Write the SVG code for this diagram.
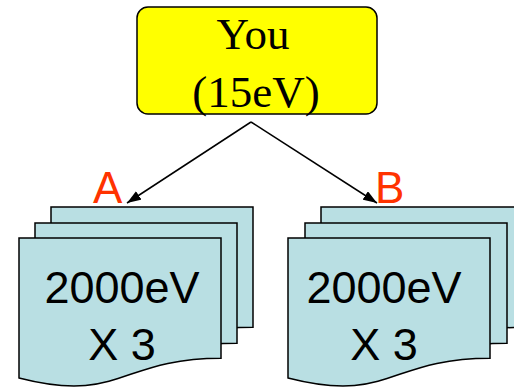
<svg xmlns="http://www.w3.org/2000/svg" width="514" height="387" viewBox="0 0 514 387">
<style>
.sheet{fill:#B9DFE3;stroke:#000;stroke-width:1.5}
.big{font-family:"Liberation Sans",Arial,sans-serif;font-size:45px;fill:#000;text-anchor:middle}
.lbl{font-family:"Liberation Sans",Arial,sans-serif;font-size:44px;fill:#FF3300}
.you{font-family:"Liberation Serif","Times New Roman",serif;font-size:45px;fill:#000;text-anchor:middle}
.conn{stroke:#000;stroke-width:1.5;fill:none}
</style>
<defs>
<path id="doc" d="M0,0 H202 V120.3 C101,120.3 101,166 0,140 Z"/>
<marker id="ah" markerWidth="14" markerHeight="10" refX="14" refY="5" orient="auto" markerUnits="userSpaceOnUse">
<path d="M0,0 L14,5 L0,10 Z" fill="#000"/>
</marker>
</defs>
<g id="you">
<rect x="137" y="7" width="240" height="107" rx="11" ry="11" fill="#FFFF00" stroke="#000" stroke-width="1.5"/>
<text class="you" x="253" y="49">You</text>
<text class="you" x="256" y="107">(15eV)</text>
</g>
<g id="connectors">
<line class="conn" x1="251" y1="122" x2="127" y2="203" marker-end="url(#ah)"/>
<line class="conn" x1="251" y1="122" x2="377" y2="203" marker-end="url(#ah)"/>
</g>
<g id="labelA"><text class="lbl" x="93" y="203">A</text></g>
<g id="labelB"><text class="lbl" x="375" y="203">B</text></g>
<g id="stackA">
<use href="#doc" class="sheet" x="51" y="207"/>
<use href="#doc" class="sheet" x="35" y="223"/>
<use href="#doc" class="sheet" x="19" y="238"/>
<text class="big" x="122" y="303">2000eV</text>
<text class="big" x="122" y="360">X 3</text>
</g>
<g id="stackB">
<use href="#doc" class="sheet" x="321" y="207"/>
<use href="#doc" class="sheet" x="305" y="223"/>
<use href="#doc" class="sheet" x="288" y="238"/>
<text class="big" x="384" y="303">2000eV</text>
<text class="big" x="384" y="360">X 3</text>
</g>
</svg>
